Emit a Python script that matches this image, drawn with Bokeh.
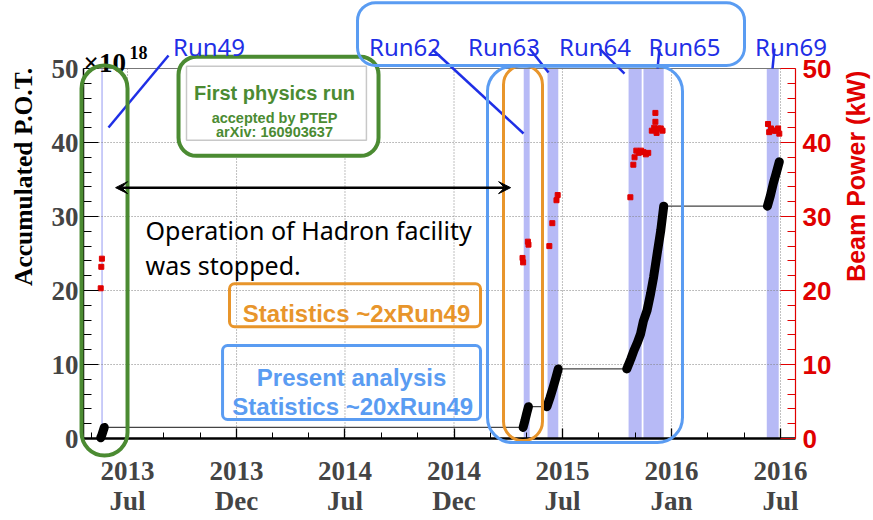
import math
from bokeh.plotting import figure
from bokeh.models import (Range1d, LinearAxis, FixedTicker, Label, BoxAnnotation,
                          Arrow, VeeHead)
from bokeh.embed import file_html
from bokeh.resources import INLINE

# ---------------- data (x = days since 2013-07-01) ----------------
tick_days = [0, 183, 365, 548, 730, 913, 1096]
tick_labels = ["2013\nJul", "2013\nDec", "2014\nJul", "2014\nDec",
               "2015\nJul", "2016\nJan", "2016\nJul"]
pot_ticks = [0, 10, 20, 30, 40, 50]
power_ticks = [0, 10, 20, 30, 40, 50]

run_names = ["Run49", "Run62", "Run63", "Run64", "Run65", "Run69"]
run_start = [-44, 665, 705, 841, 866, 1073]
run_end = [-41.5, 675, 723, 863, 900, 1093]

# accumulated P.O.T. (x10^18) per run
run49_day = [-45, -43, -41, -39]
run49_pot = [0.1, 0.5, 1.0, 1.5]
run62_day = [664, 667, 670, 673]
run62_pot = [1.5, 2.4, 3.4, 4.3]
run63_day = [704, 709, 714, 719, 723]
run63_pot = [4.3, 5.5, 6.8, 8.2, 9.4]
run6465_day = [838, 845, 850, 856, 861, 866, 872, 878, 883, 889, 895, 900]
run6465_pot = [9.4, 10.8, 11.9, 13.0, 14.1, 15.9, 17.3, 19.6, 21.8, 25.0, 28.1, 31.4]
run69_day = [1074, 1079, 1084, 1089, 1094]
run69_pot = [31.4, 32.8, 34.5, 35.9, 37.4]

# beam power (kW)
power_day = [-45, -44, -43,
             663, 664, 672, 673,
             708, 713, 720, 722,
             844, 849, 851, 854, 858, 862, 866, 870, 874, 880, 884, 886, 886, 888, 891, 895, 898,
             1075, 1077, 1080, 1084, 1088, 1092, 1094]
power_kw = [20.3, 23.2, 24.3,
            24.4, 23.8, 26.6, 26.2,
            26.0, 29.1, 32.2, 32.9,
            32.6, 37.0, 38.0, 38.9, 38.6, 38.9, 38.7, 38.4, 38.6, 41.6, 42.0, 44.0, 42.8, 41.3, 41.9, 41.9, 41.6,
            42.5, 41.4, 41.9, 41.6, 41.6, 41.9, 41.2]

# ---------------- figure ----------------
X_LEFT, X_RIGHT = -73.8, 1121.2
W, H = 873, 520
p = figure(width=W, height=H, output_backend="svg", toolbar_location=None,
           x_axis_type=None, y_axis_type=None,
           x_range=Range1d(-213.2, 1252.1), y_range=Range1d(-11.08, 59.19))
p.extra_y_ranges = {"power": Range1d(-11.08, 59.19)}
p.min_border = 0
p.min_border_left = p.min_border_right = p.min_border_top = p.min_border_bottom = 0
p.outline_line_color = None
p.background_fill_color = "white"
p.border_fill_color = "white"

# run bands
p.quad(left=run_start, right=run_end, bottom=0, top=50,
       fill_color="#b3b6f5", line_color=None, fill_alpha=0.95)

# grid lines
p.segment(x0=tick_days, y0=0, x1=tick_days, y1=50,
          line_color="#808080", line_width=1, line_dash="1 2")
p.segment(x0=X_LEFT, y0=pot_ticks[1:-1], x1=X_RIGHT, y1=pot_ticks[1:-1],
          line_color="#808080", line_width=1, line_dash="1 2")
# top frame line
p.segment(x0=[X_LEFT], y0=[50], x1=[X_RIGHT], y1=[50], line_color="#777777", line_width=1)

# accumulated POT: thin connecting line + thick run segments
all_day = run49_day + run62_day + run63_day + run6465_day + run69_day
all_pot = run49_pot + run62_pot + run63_pot + run6465_pot + run69_pot
p.line(all_day, all_pot, line_color="#444444", line_width=1.3)
for d, v in [(run49_day, run49_pot), (run62_day, run62_pot), (run63_day, run63_pot),
             (run6465_day, run6465_pot), (run69_day, run69_pot)]:
    p.line(d, v, line_color="black", line_width=9, line_cap="round", line_join="round")

# beam power
p.scatter(power_day, power_kw, marker="square", size=5, color="#e00000",
          y_range_name="power")

# ---------------- axes ----------------
x_minor = []
for a, b in zip(tick_days[:-1], tick_days[1:]):
    x_minor += [a + (b - a) / 3, a + 2 * (b - a) / 3]
x_minor = [-(tick_days[1] - tick_days[0]) / 3] + x_minor

xaxis = LinearAxis(ticker=FixedTicker(ticks=tick_days, minor_ticks=x_minor),
                   fixed_location=0, bounds=(X_LEFT, X_RIGHT))
xaxis.major_label_overrides = {d: l for d, l in zip(tick_days, tick_labels)}
xaxis.axis_line_width = 2.5
xaxis.axis_line_color = "black"
xaxis.major_tick_in = 10
xaxis.major_tick_out = 0
xaxis.minor_tick_in = 6
xaxis.minor_tick_out = 0
xaxis.major_tick_line_width = 1.3
xaxis.major_label_text_font = "Liberation Serif"
xaxis.major_label_text_font_style = "bold"
xaxis.major_label_text_font_size = "27px"
xaxis.major_label_text_line_height = 1.0
xaxis.major_label_standoff = 17
p.add_layout(xaxis, "below")

y_minor = [v for v in range(0, 51, 2) if v % 10 != 0]
yaxis = LinearAxis(ticker=FixedTicker(ticks=pot_ticks, minor_ticks=y_minor),
                   fixed_location=X_LEFT, bounds=(0, 50))
yaxis.axis_line_width = 1.5
yaxis.major_tick_in = 15
yaxis.major_tick_out = 0
yaxis.minor_tick_in = 8
yaxis.minor_tick_out = 0
yaxis.major_label_text_font = "Liberation Serif"
yaxis.major_label_text_font_style = "bold"
yaxis.major_label_text_font_size = "27px"
yaxis.major_label_standoff = 5
p.add_layout(yaxis, "left")

raxis = LinearAxis(y_range_name="power",
                   ticker=FixedTicker(ticks=power_ticks, minor_ticks=y_minor),
                   fixed_location=X_RIGHT, bounds=(0, 50))
raxis.axis_line_color = "#e00000"
raxis.axis_line_width = 1.2
raxis.major_tick_line_color = "#e00000"
raxis.minor_tick_line_color = "#e00000"
raxis.major_tick_in = 15
raxis.major_tick_out = 0
raxis.minor_tick_in = 8
raxis.minor_tick_out = 0
raxis.major_label_text_color = "#e00000"
raxis.major_label_text_font = "Liberation Sans"
raxis.major_label_text_font_style = "bold"
raxis.major_label_text_font_size = "26px"
raxis.major_label_standoff = 7
p.add_layout(raxis, "right")

# axis titles and exponent
p.add_layout(Label(x=-174.6, y=50.1, text="Accumulated P.O.T.", angle=math.pi / 2,
                   text_align="right", text_baseline="middle",
                   text_font="Liberation Serif", text_font_style="bold",
                   text_font_size="25.5px", text_color="black"))
p.add_layout(Label(x=1222.0, y=49.7, text="Beam Power (kW)", angle=math.pi / 2,
                   text_align="right", text_baseline="middle",
                   text_font="Liberation Sans", text_font_style="bold",
                   text_font_size="25px", text_color="#e00000"))
p.add_layout(Label(x=-73.9, y=50.7, text="×10", text_font="Liberation Serif",
                   text_font_style="bold", text_font_size="27px",
                   text_baseline="alphabetic", text_color="black"))
p.add_layout(Label(x=3.4, y=52.2, text="18", text_font="Liberation Serif",
                   text_font_style="bold", text_font_size="18px",
                   text_baseline="alphabetic", text_color="black"))

# ---------------- annotations ----------------
GREEN = "#4b8b32"
ORANGE = "#e8952b"
LBLUE = "#5a9cf2"
RUNBLUE = "#1f2fe6"


def rbox(l, r, t, b, color, lw, radius, fill=None):
    return BoxAnnotation(left=l, right=r, top=t, bottom=b, line_color=color,
                         line_alpha=1.0, line_width=lw, border_radius=radius,
                         fill_color=fill if fill else "white",
                         fill_alpha=1.0 if fill else 0.0)


p.add_layout(rbox(-77.2, 0, 50.4, -2.3, GREEN, 4, 23))
p.add_layout(rbox(85.6, 421.3, 51.6, 38.2, GREEN, 4, 18, fill="white"))
p.add_layout(rbox(99, 401, 50.3, 40.3, "#c8c8c8", 1.5, 0, fill="white"))
p.add_layout(rbox(631.1, 696.5, 50.4, -0.27, ORANGE, 3, 19))
p.add_layout(rbox(604.2, 931.5, 50.3, -0.54, LBLUE, 3, 25))
p.add_layout(rbox(386, 1035.6, 58.9, 50.4, LBLUE, 3, 18))
p.add_layout(rbox(171.2, 592.5, 20.9, 15.1, ORANGE, 3, 5))
p.add_layout(rbox(159.5, 592.5, 12.57, 2.57, LBLUE, 3, 5))

for txt, yy, fs in [("First physics run", 46.69, "20px"),
                    ("accepted by PTEP", 43.34, "14.5px"),
                    ("arXiv: 160903637", 41.39, "14.5px")]:
    p.add_layout(Label(x=246.7, y=yy, text=txt, text_align="center",
                       text_baseline="alphabetic", text_font="Liberation Sans",
                       text_font_style="bold", text_font_size=fs, text_color=GREEN))

p.add_layout(Label(x=384.4, y=16.85, text="Statistics ~2xRun49", text_align="center",
                   text_baseline="alphabetic", text_font="Liberation Sans",
                   text_font_style="bold", text_font_size="24px", text_color=ORANGE))
p.add_layout(Label(x=376, y=8.28, text="Present analysis", text_align="center",
                   text_baseline="alphabetic", text_font="Liberation Sans",
                   text_font_style="bold", text_font_size="24px", text_color=LBLUE))
p.add_layout(Label(x=378, y=4.32, text="Statistics ~20xRun49", text_align="center",
                   text_baseline="alphabetic", text_font="Liberation Sans",
                   text_font_style="bold", text_font_size="24px", text_color=LBLUE))

# shutdown arrow and text
p.add_layout(Arrow(start=VeeHead(size=12, line_color="black", fill_color="black"),
                   end=VeeHead(size=12, line_color="black", fill_color="black"),
                   x_start=-20, y_start=33.9, x_end=643, y_end=33.9,
                   line_color="black", line_width=2.5))
p.add_layout(Label(x=30.2, y=28.2, text="Operation of Hadron facility",
                   text_baseline="alphabetic", text_font="Noto Sans",
                   text_font_size="25px", text_color="black"))
p.add_layout(Label(x=30.2, y=23.5, text="was stopped.",
                   text_baseline="alphabetic", text_font="Noto Sans",
                   text_font_size="25px", text_color="black"))

# run labels with pointer lines
label_x = [136.8, 465.8, 631.9, 784.7, 934.9, 1113.6]
ptr_x0 = [68.8, 511.9, 674.7, 792.2, 892.9, 1085.9]
ptr_y0 = [51.76, 52.57, 52.7, 52.7, 52.7, 52.7]
ptr_x1 = [-31.9, 664.7, 706.6, 834.2, 889.6, 1082.6]
ptr_y1 = [42.03, 41.22, 49.46, 49.32, 50.0, 50.0]
p.segment(x0=ptr_x0, y0=ptr_y0, x1=ptr_x1, y1=ptr_y1, line_color=RUNBLUE, line_width=2.5)
for name, lx in zip(run_names, label_x):
    p.add_layout(Label(x=lx, y=53.0, text=name, text_align="center",
                       text_baseline="alphabetic", text_font="Noto Sans",
                       text_font_size="24px", text_color=RUNBLUE))

open("out.html", "w").write(file_html(p, INLINE))
